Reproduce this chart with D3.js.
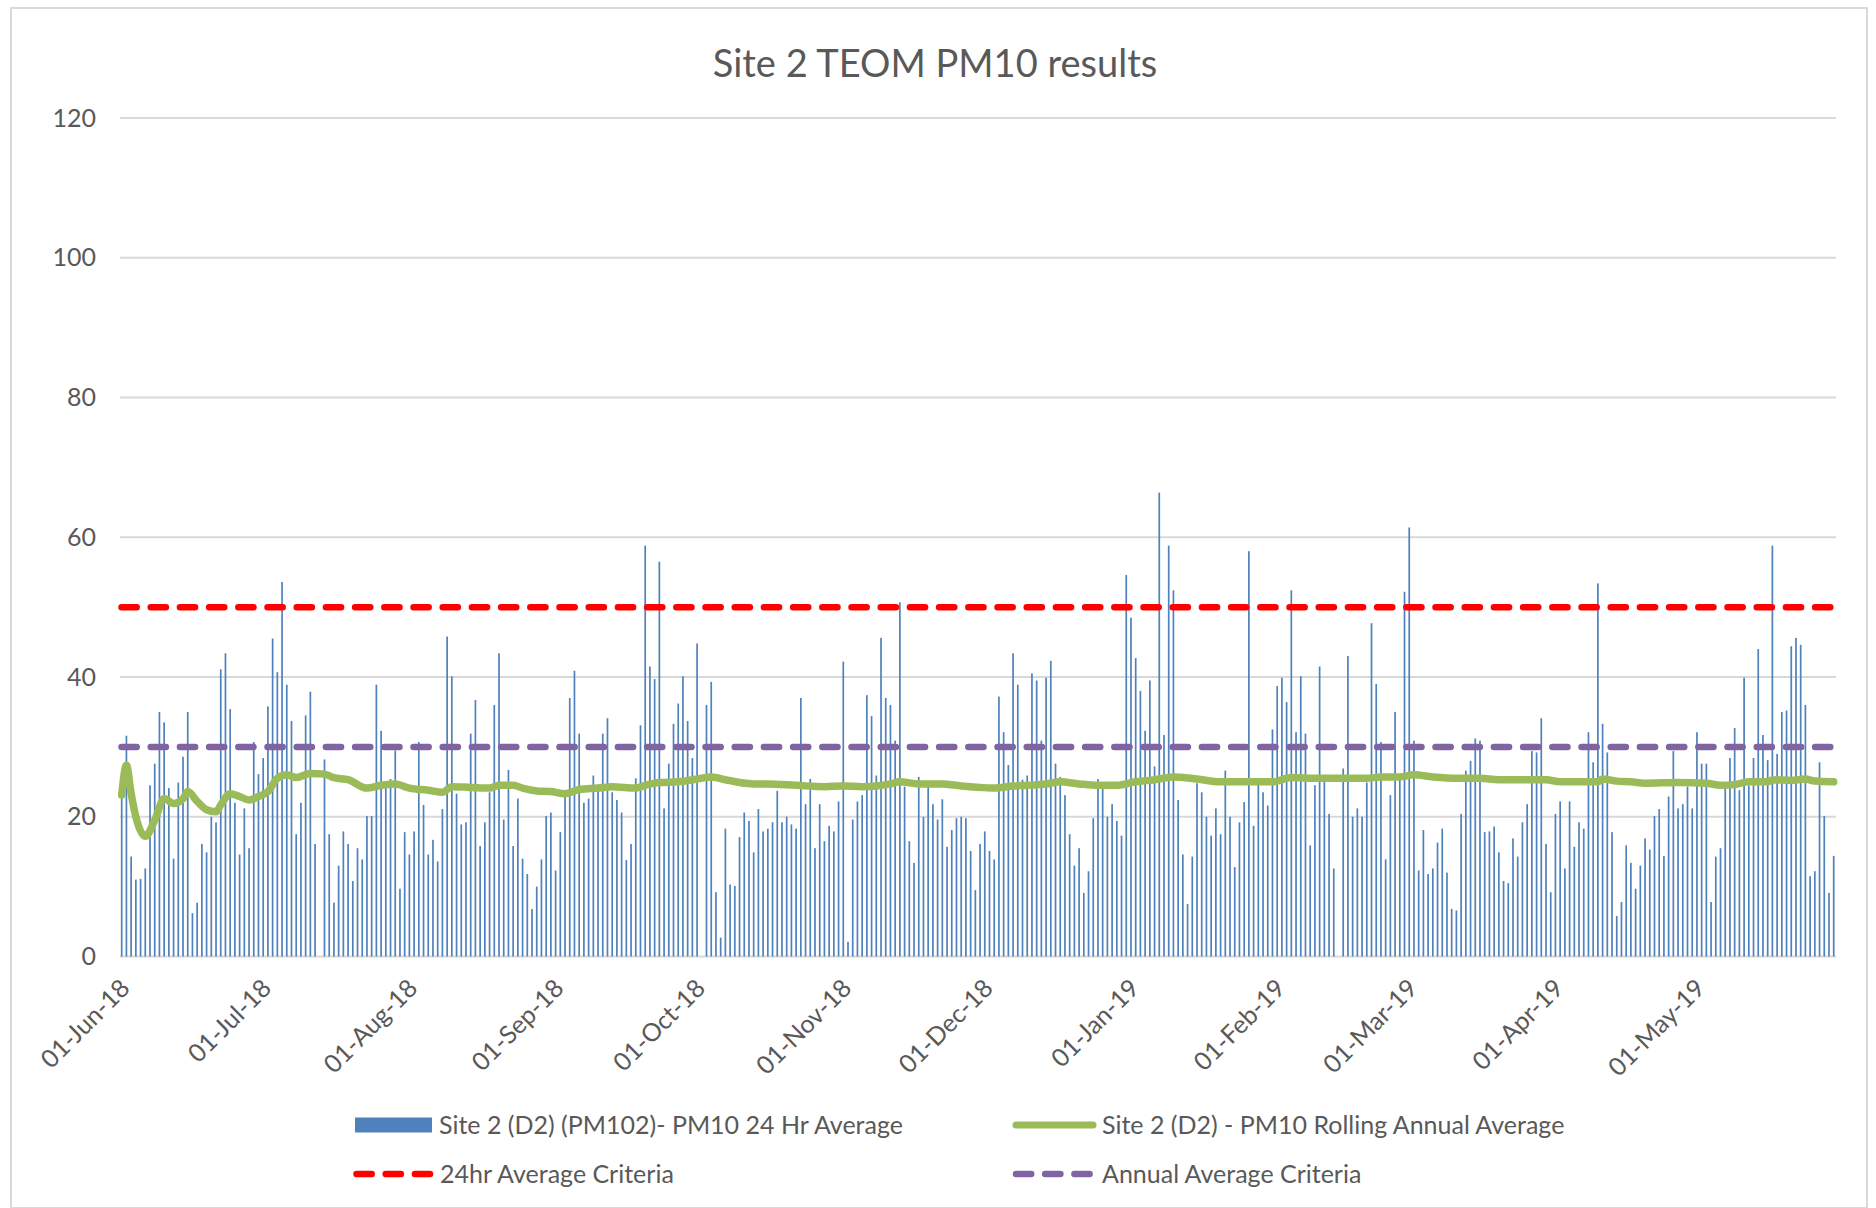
<!DOCTYPE html>
<html>
<head>
<meta charset="utf-8">
<script src="https://cdn.jsdelivr.net/npm/d3@7"></script>
<style>
  body { margin: 0; background: #fff; }
  svg text { font-family: Lato, "Open Sans", sans-serif; fill: #595959; }
</style>
</head>
<body>
<svg id="chart"></svg>
<script>
const chartTitle = 'Site 2 TEOM PM10 results'
const startDate = '2018-06-01'

// daily PM10 24 hr averages, one value per day from 01-Jun-18 (null = no reading)
const pm10Daily = [
  // Jun
  22.9, 31.6, 14.3, 11.0, 11.1, 12.6, 24.5, 27.6, 35.0, 33.5, 24.1, 14.0, 24.9, 28.6, 35.0,
  6.2, 7.7, 16.1, 14.9, 20.0, 19.2, 41.1, 43.4, 35.4, 22.0, 14.6, 21.2, 15.5, 30.7, 26.1,
  // Jul
  28.4, 35.8, 45.5, 40.7, 53.6, 38.9, 33.7, 17.5, 22.0, 34.5, 37.9, 16.1, null, 28.2, 17.5,
  7.7, 13.0, 17.9, 16.1, 10.8, 15.5, 13.9, 20.1, 20.1, 38.9, 32.3, 25.1, 25.4, 29.5, 9.7, 17.8,
  // Aug
  14.6, 17.9, 30.7, 21.7, 14.6, 16.7, 13.6, 21.1, 45.8, 40.1, 23.3, 18.9, 19.2, 31.9, 36.7,
  15.8, 19.2, 23.5, 36.0, 43.4, 19.6, 26.7, 15.8, 22.6, 14.0, 11.8, 6.8, 10.0, 13.9, 20.1, 20.6,
  // Sep
  12.3, 17.8, 23.1, 37.0, 40.9, 31.9, 22.0, 22.6, 25.9, 24.5, 31.9, 34.1, 23.5, 22.4, 20.6,
  13.8, 16.1, 25.5, 33.1, 58.8, 41.5, 39.7, 56.5, 21.2, 27.6, 33.3, 36.2, 40.1, 33.7, 28.4,
  // Oct
  44.8, null, 36.0, 39.3, 9.2, 2.7, 18.3, 10.3, 10.1, 17.1, 20.6, 19.4, 14.9, 21.1, 17.9,
  18.3, 19.2, 23.7, 19.2, 20.0, 18.9, 18.3, 37.0, 21.8, 25.4, 15.5, 21.8, 16.5, 18.7, 17.9, 22.2,
  // Nov
  42.2, 2.1, 19.6, 22.2, 23.1, 37.4, 34.4, 25.9, 45.6, 37.0, 36.0, 30.9, 50.7, 24.3, 16.5,
  13.4, 25.7, 20.0, 24.3, 21.8, 19.6, 22.5, 15.7, 18.1, 19.8, 20.0, 19.8, 15.1, 9.5, 16.1,
  // Dec
  17.9, 15.1, 13.9, 37.2, 32.1, 27.4, 43.4, 38.9, 25.3, 25.9, 40.5, 39.5, 30.9, 39.9, 42.3,
  27.6, 25.7, 23.1, 17.5, 13.0, 15.5, 9.1, 12.2, 19.8, 25.4, 24.1, 20.0, 21.8, 19.4, 17.3, 54.6,
  // Jan
  48.5, 42.7, 38.0, 32.3, 39.5, 27.2, 66.4, 31.7, 58.8, 52.4, 22.4, 14.6, 7.5, 14.3, 24.8,
  23.5, 20.0, 17.3, 21.2, 17.5, 26.6, 20.0, 12.8, 19.2, 22.1, 58.0, 18.7, 24.8, 23.5, 21.6, 32.5,
  // Feb
  38.7, 39.9, 36.4, 52.4, 32.1, 40.1, 31.9, 15.9, 24.5, 41.5, 25.5, 20.4, 12.6, null,
  26.9, 43.0, 20.0, 21.2, 20.0, 24.9, 47.7, 39.0, 30.7, 13.9, 23.1, 35.0, 25.7, 52.2,
  // Mar
  61.4, 30.9, 12.3, 18.1, 11.8, 12.6, 16.3, 18.3, 12.0, 6.8, 6.6, 20.4, 26.6, 28.0, 31.2,
  30.9, 17.8, 17.9, 18.6, 14.9, 10.8, 10.5, 16.9, 14.3, 19.2, 21.8, 29.4, 29.2, 34.1, 16.1, 9.2,
  // Apr
  20.4, 22.2, 12.6, 22.2, 15.7, 19.2, 18.3, 32.1, 27.8, 53.4, 33.3, 29.2, 17.8, 5.8, 7.8,
  15.9, 13.4, 9.7, 13.0, 16.9, 15.3, 20.1, 21.1, 14.4, 22.9, 29.4, 21.2, 21.8, 24.3, 21.2,
  // May
  32.1, 27.6, 27.6, 7.8, 14.3, 15.5, 24.3, 28.4, 32.7, 23.8, 39.9, 24.5, 28.4, 44.0, 31.7,
  28.1, 58.8, 29.0, 35.0, 35.2, 44.4, 45.6, 44.6, 36.0, 11.5, 12.2, 27.8, 20.1, 9.1, 14.4
]

// rolling annual average (day number from 01-Jun-18, value)
const rollingDays = [
  0, 1, 2, 3, 5, 7, 9, 11, 13, 14, 16, 18, 20, 21, 23, 25, 27, 29, 31, 33, 35, 37, 40, 43, 45,
  48, 52, 55, 58, 61, 65, 68, 70, 74, 78, 80, 83, 85, 88, 91, 94, 97, 101, 104, 109, 111, 114,
  118, 122, 125, 128, 131, 134, 137, 143, 149, 153, 157, 160, 163, 165, 169, 174, 178, 182,
  185, 189, 192, 196, 199, 203, 207, 211, 215, 219, 223, 228, 233, 239, 244, 248, 253, 258,
  264, 267, 271, 274, 278, 283, 288, 292, 297, 302, 305, 309, 313, 314, 317, 320, 323, 330,
  336, 339, 342, 345, 349, 350, 354, 357, 359, 363
]
const rollingValues = [
  23.1, 27.4, 23.3, 20.0, 17.2, 19.5, 22.6, 21.9, 22.6, 23.6, 22.2, 21.0, 20.7, 21.7, 23.3,
  22.9, 22.4, 22.9, 23.6, 25.5, 26.0, 25.6, 26.2, 26.1, 25.6,
  25.3, 24.1, 24.5, 24.7, 24.1, 23.8, 23.5, 24.3, 24.2, 24.1, 24.5, 24.5, 24.1, 23.7, 23.6,
  23.3, 23.9, 24.1, 24.3, 24.1, 24.5, 24.9,
  25.0, 25.4, 25.7, 25.3, 24.9, 24.7, 24.7, 24.5, 24.3, 24.4, 24.3, 24.4, 24.7, 25.0, 24.7,
  24.7, 24.4, 24.2,
  24.1, 24.4, 24.5, 24.7, 25.0, 24.7, 24.5, 24.5, 25.0, 25.3, 25.7, 25.4, 25.0, 25.0, 25.0,
  25.6, 25.5, 25.5,
  25.5, 25.7, 25.7, 26.0, 25.7, 25.5, 25.5, 25.3, 25.3, 25.3, 25.0, 25.0, 25.0, 25.4, 25.1,
  25.0, 24.8, 24.9,
  24.8, 24.5, 24.6, 25.0, 25.0, 25.3, 25.2, 25.4, 25.1, 25.0
]

const criteria24hr = 50
const criteriaAnnual = 30

const yTicks = [0, 20, 40, 60, 80, 100, 120]
const monthTicks = ['2018-06-01', '2018-07-01', '2018-08-01', '2018-09-01', '2018-10-01', '2018-11-01',
  '2018-12-01', '2019-01-01', '2019-02-01', '2019-03-01', '2019-04-01', '2019-05-01']

const legendLabels = [
  'Site 2 (D2) (PM102)- PM10 24 Hr Average',
  'Site 2 (D2) - PM10 Rolling Annual Average',
  '24hr Average Criteria',
  'Annual Average Criteria'
]

const width = 1876
const height = 1208

const blue = '#4F81BD'
const green = '#9BBB59'
const red = '#FF0000'
const purple = '#8064A2'
const grid = '#D9D9D9'

const parse = d3.utcParse('%Y-%m-%d')
const start = parse(startDate)
const days = pm10Daily.map((v, i) => ({ date: d3.utcDay.offset(start, i), value: v }))
const rolling = rollingDays.map((d, i) => ({ date: d3.utcDay.offset(start, d), value: rollingValues[i] }))

const x = d3.scaleUtc()
  .domain([start, days[days.length - 1].date])
  .range([121.7, 1833.7])

const y = d3.scaleLinear()
  .domain([0, 120])
  .range([956.5, 118])

const svg = d3.select('#chart')
  .attr('width', width)
  .attr('height', height)

// chart border
svg.append('rect')
  .attr('x', 11).attr('y', 8)
  .attr('width', 1856).attr('height', 1200)
  .attr('fill', 'none')
  .attr('stroke', grid)
  .attr('stroke-width', 2)

svg.append('text')
  .attr('x', 935)
  .attr('y', 77)
  .attr('text-anchor', 'middle')
  .style('font-size', '38px')
  .text(chartTitle)

// gridlines
svg.append('g')
  .selectAll('line')
  .data(yTicks)
  .join('line')
  .attr('x1', 120).attr('x2', 1836)
  .attr('y1', d => y(d)).attr('y2', d => y(d))
  .attr('stroke', grid)
  .attr('stroke-width', 2)

// y axis labels
const yAxis = svg.append('g')
  .attr('transform', 'translate(96,0)')
  .call(d3.axisLeft(y).tickValues(yTicks).tickSize(0).tickPadding(0))
yAxis.select('.domain').remove()
yAxis.selectAll('text')
  .style('font-size', '25px')
  .style('font-family', 'Lato, "Open Sans", sans-serif')
  .attr('fill', '#595959')

// bars
svg.append('g')
  .selectAll('rect')
  .data(days.filter(d => d.value != null))
  .join('rect')
  .attr('x', d => x(d.date) - 0.85)
  .attr('width', 1.7)
  .attr('y', d => y(d.value))
  .attr('height', d => y(0) - y(d.value))
  .attr('fill', blue)

// criteria lines
const dash = '15.2 14'
const criteria = [
  { value: criteria24hr, color: red },
  { value: criteriaAnnual, color: purple }
]
svg.append('g')
  .selectAll('line')
  .data(criteria)
  .join('line')
  .attr('x1', 121.5).attr('x2', 1834)
  .attr('y1', d => y(d.value)).attr('y2', d => y(d.value))
  .attr('stroke', d => d.color)
  .attr('stroke-width', 6.5)
  .attr('stroke-linecap', 'round')
  .attr('stroke-dasharray', dash)

// rolling annual average
const line = d3.line()
  .x(d => x(d.date))
  .y(d => y(d.value))
  .curve(d3.curveMonotoneX)

svg.append('path')
  .datum(rolling)
  .attr('d', line)
  .attr('fill', 'none')
  .attr('stroke', green)
  .attr('stroke-width', 7.5)
  .attr('stroke-linejoin', 'round')
  .attr('stroke-linecap', 'round')

// x axis labels
const xAxis = svg.append('g')
  .attr('transform', `translate(0,${y(0)})`)
  .call(d3.axisBottom(x)
    .tickValues(monthTicks.map(parse))
    .tickFormat(d3.utcFormat('%d-%b-%y'))
    .tickSize(0))
xAxis.select('.domain').remove()
xAxis.selectAll('text')
  .attr('y', 0)
  .attr('dy', '0.35em')
  .attr('text-anchor', 'end')
  .attr('transform', 'translate(3,27) rotate(-45)')
  .style('font-size', '25px')
  .style('font-family', 'Lato, "Open Sans", sans-serif')
  .attr('fill', '#595959')

// legend
const legend = svg.append('g')
const rowY = [1125, 1174]
const colX = [355, 1013]

legend.append('rect')
  .attr('x', colX[0]).attr('y', rowY[0] - 7.5)
  .attr('width', 77).attr('height', 15)
  .attr('fill', blue)

legend.append('line')
  .attr('x1', colX[1] + 3).attr('x2', colX[1] + 80)
  .attr('y1', rowY[0]).attr('y2', rowY[0])
  .attr('stroke', green).attr('stroke-width', 7)
  .attr('stroke-linecap', 'round')

legend.append('line')
  .attr('x1', colX[0] + 1.5).attr('x2', colX[0] + 75)
  .attr('y1', rowY[1]).attr('y2', rowY[1])
  .attr('stroke', red).attr('stroke-width', 6.5)
  .attr('stroke-linecap', 'round')
  .attr('stroke-dasharray', dash)

legend.append('line')
  .attr('x1', colX[1] + 3).attr('x2', colX[1] + 77)
  .attr('y1', rowY[1]).attr('y2', rowY[1])
  .attr('stroke', purple).attr('stroke-width', 6.5)
  .attr('stroke-linecap', 'round')
  .attr('stroke-dasharray', dash)

const legendText = [
  { x: 439, y: rowY[0] }, { x: 1102, y: rowY[0] },
  { x: 440, y: rowY[1] }, { x: 1102, y: rowY[1] }
]
legend.selectAll('text')
  .data(legendLabels)
  .join('text')
  .attr('x', (d, i) => legendText[i].x)
  .attr('y', (d, i) => legendText[i].y)
  .attr('dy', '0.35em')
  .style('font-size', '25px')
  .text(d => d)
</script>
</body>
</html>
